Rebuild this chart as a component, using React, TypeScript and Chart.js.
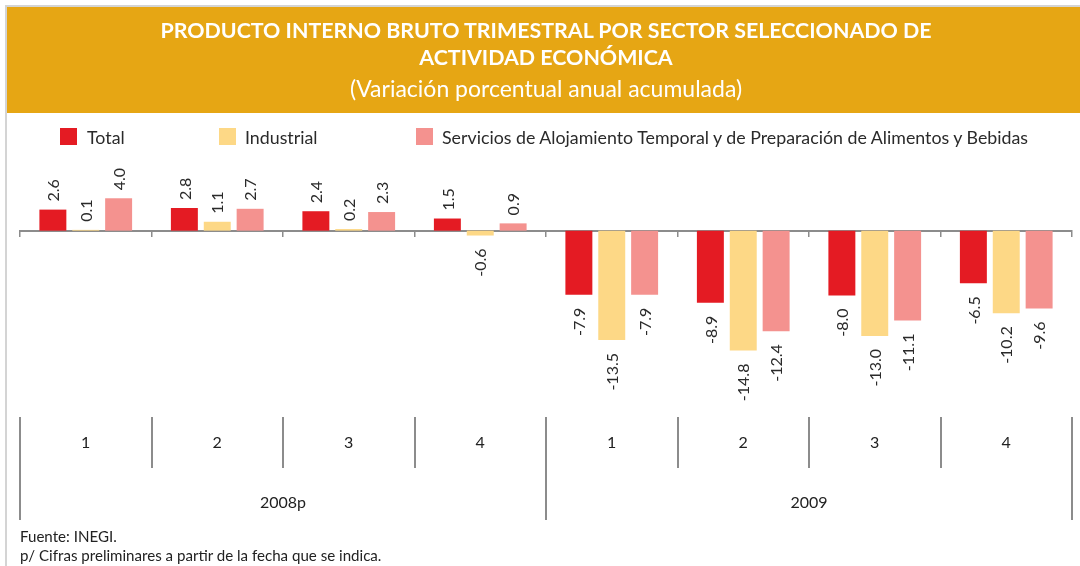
import React, { useEffect, useRef } from "react";
import { Chart, registerables } from "chart.js";

Chart.register(...registerables);

const quarters = ["1", "2", "3", "4", "1", "2", "3", "4"];
const years = ["2008p", "2009"];
const totalValues = [2.6, 2.8, 2.4, 1.5, -7.9, -8.9, -8.0, -6.5];
const industrialValues = [0.1, 1.1, 0.2, -0.6, -13.5, -14.8, -13.0, -10.2];
const serviciosValues = [4.0, 2.7, 2.3, 0.9, -7.9, -12.4, -11.1, -9.6];
const seriesNames = [
  "Total",
  "Industrial",
  "Servicios de Alojamiento Temporal y de Preparación de Alimentos y Bebidas",
];
const seriesColors = ["#E41B23", "#FDD886", "#F4928F"];

const FONT = "Lato, 'Noto Sans', sans-serif";
const GRAY = "#8C8C8C";
const Y_MIN = -23;
const Y_MAX = 8.6;

const valueLabels = {
  id: "valueLabels",
  afterDatasetsDraw(chart: any) {
    const ctx = chart.ctx;
    ctx.save();
    ctx.font = `16px ${FONT}`;
    ctx.fillStyle = "#2a2a2a";
    ctx.textBaseline = "middle";
    chart.data.datasets.forEach((ds: any, di: number) => {
      const meta = chart.getDatasetMeta(di);
      meta.data.forEach((el: any, i: number) => {
        const v = ds.data[i] as number;
        const txt = v.toFixed(1);
        ctx.save();
        if (v >= 0) {
          ctx.translate(el.x, el.y - 8);
          ctx.rotate(-Math.PI / 2);
          ctx.textAlign = "left";
        } else {
          ctx.translate(el.x, el.y + 13);
          ctx.rotate(-Math.PI / 2);
          ctx.textAlign = "right";
        }
        ctx.fillText(txt, 0, 1);
        ctx.restore();
      });
    });
    ctx.restore();
  },
};

function ChartCanvas() {
  const ref = useRef<HTMLCanvasElement | null>(null);
  useEffect(() => {
    if (!ref.current) return;
    const chart = new Chart(ref.current, {
      type: "bar",
      data: {
        labels: quarters,
        datasets: [
          { label: seriesNames[0], data: totalValues, backgroundColor: seriesColors[0] },
          { label: seriesNames[1], data: industrialValues, backgroundColor: seriesColors[1] },
          { label: seriesNames[2], data: serviciosValues, backgroundColor: seriesColors[2] },
        ],
      },
      options: {
        responsive: false,
        animation: false,
        events: [],
        layout: { padding: { left: 20, right: 8, top: 161, bottom: 149 } },
        datasets: { bar: { categoryPercentage: 0.75, barPercentage: 0.82 } } as any,
        plugins: { legend: { display: false }, tooltip: { enabled: false }, title: { display: false } },
        scales: {
          y: { display: false, min: Y_MIN, max: Y_MAX },
          x: {
            position: { y: 0 } as any,
            offset: true,
            grid: {
              offset: true,
              drawOnChartArea: false,
              drawTicks: true,
              tickLength: 5,
              color: GRAY,
              lineWidth: 1.5,
            },
            border: { display: true, color: GRAY, width: 2 },
            ticks: { display: false },
          },
          xq: {
            type: "category",
            labels: quarters,
            position: { y: Y_MIN } as any,
            offset: true,
            grid: {
              offset: true,
              drawOnChartArea: false,
              drawTicks: true,
              tickLength: 51,
              color: GRAY,
              lineWidth: 2,
            },
            border: { display: false },
            ticks: {
              color: "#222",
              font: { family: FONT, size: 16 },
              padding: -34.6,
              maxRotation: 0,
              autoSkip: false,
            },
          },
          xy: {
            type: "category",
            labels: years,
            position: { y: Y_MIN } as any,
            offset: true,
            grid: {
              offset: true,
              drawOnChartArea: false,
              drawTicks: true,
              tickLength: 103,
              color: GRAY,
              lineWidth: 2,
            },
            border: { display: false },
            ticks: {
              color: "#222",
              font: { family: FONT, size: 16 },
              padding: -26.6,
              maxRotation: 0,
              autoSkip: false,
            },
          },
        } as any,
      },
      plugins: [valueLabels],
    });
    return () => chart.destroy();
  }, []);
  return (
    <canvas
      ref={ref}
      width={1080}
      height={566}
      style={{ position: "absolute", left: 0, top: 0, width: 1080, height: 566 }}
    />
  );
}

export default function App() {
  const legendPos = [
    { box: 60, text: 87 },
    { box: 219, text: 245 },
    { box: 416, text: 442 },
  ];
  return (
    <div
      style={{
        position: "fixed",
        left: 0,
        top: 0,
        width: 1080,
        height: 566,
        background: "#fff",
        overflow: "hidden",
        fontFamily: FONT,
      }}
    >
      <ChartCanvas />
      {/* frame lines */}
      <div style={{ position: "absolute", left: 5, top: 5, width: 1075, height: 2, background: "#D4D4D4" }} />
      <div style={{ position: "absolute", left: 5, top: 5, width: 2, height: 561, background: "#D4D4D4" }} />
      {/* header */}
      <div style={{ position: "absolute", left: 7, top: 7, width: 1073, height: 106, background: "#E6A614" }} />
      <div
        style={{
          position: "absolute",
          left: 0,
          width: 1092,
          top: 17,
          textAlign: "center",
          color: "#fff",
          fontWeight: 700,
          fontSize: 21.4,
          lineHeight: "27px",
        }}
      >
        PRODUCTO INTERNO BRUTO TRIMESTRAL POR SECTOR SELECCIONADO DE
        <br />
        ACTIVIDAD ECONÓMICA
      </div>
      <div
        style={{
          position: "absolute",
          left: 0,
          width: 1092,
          top: 74,
          textAlign: "center",
          color: "#fff",
          fontWeight: 400,
          fontSize: 23,
          lineHeight: "28px",
        }}
      >
        (Variación porcentual anual acumulada)
      </div>
      {/* legend */}
      {seriesNames.map((name, i) => (
        <React.Fragment key={name}>
          <div
            style={{
              position: "absolute",
              left: legendPos[i].box,
              top: 128,
              width: 17,
              height: 17,
              background: seriesColors[i],
            }}
          />
          <div
            style={{
              position: "absolute",
              left: legendPos[i].text,
              top: 126,
              fontSize: 17.8,
              lineHeight: "22px",
              color: "#2a2a2a",
              whiteSpace: "nowrap",
            }}
          >
            {name}
          </div>
        </React.Fragment>
      ))}
      {/* footer */}
      <div
        style={{
          position: "absolute",
          left: 20,
          top: 527,
          fontSize: 15.1,
          lineHeight: "19px",
          color: "#222",
          whiteSpace: "nowrap",
        }}
      >
        Fuente: INEGI.
        <br />
        p/ Cifras preliminares a partir de la fecha que se indica.
      </div>
    </div>
  );
}
